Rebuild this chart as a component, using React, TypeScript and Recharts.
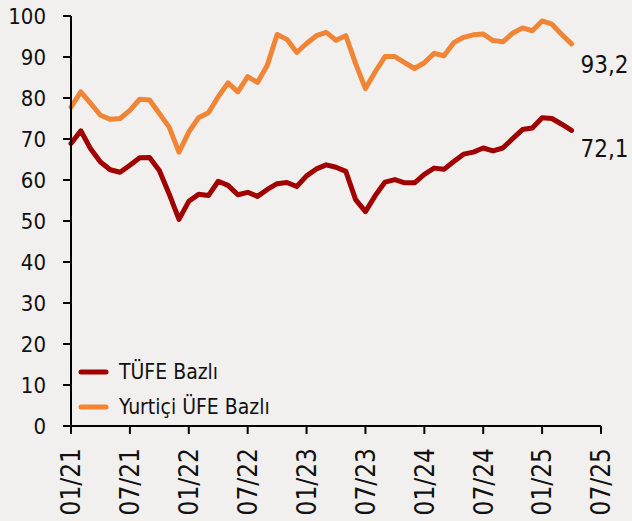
import React from 'react';
import { LineChart, Line, XAxis, YAxis, Legend, LabelList } from 'recharts';

const MONTHS = [
  '01/21', '02/21', '03/21', '04/21', '05/21', '06/21', '07/21', '08/21', '09/21', '10/21', '11/21', '12/21',
  '01/22', '02/22', '03/22', '04/22', '05/22', '06/22', '07/22', '08/22', '09/22', '10/22', '11/22', '12/22',
  '01/23', '02/23', '03/23', '04/23', '05/23', '06/23', '07/23', '08/23', '09/23', '10/23', '11/23', '12/23',
  '01/24', '02/24', '03/24', '04/24', '05/24', '06/24', '07/24', '08/24', '09/24', '10/24', '11/24', '12/24',
  '01/25', '02/25', '03/25', '04/25',
];

const TUFE = [
  68.9, 72.0, 67.6, 64.4, 62.5, 61.9, 63.6, 65.4, 65.5, 62.3, 56.6, 50.4,
  54.8, 56.5, 56.2, 59.7, 58.7, 56.4, 57.0, 56.0, 57.7, 59.1, 59.4, 58.4,
  61.0, 62.7, 63.7, 63.1, 62.1, 55.2, 52.3, 56.2, 59.5, 60.1, 59.3, 59.3,
  61.4, 62.9, 62.6, 64.5, 66.3, 66.8, 67.8, 67.1, 67.8, 70.1, 72.3, 72.7,
  75.2, 75.0, 73.6, 72.1,
];

const UFE = [
  77.8, 81.5, 78.7, 75.8, 74.8, 75.0, 77.0, 79.7, 79.5, 76.2, 72.9, 66.8,
  71.7, 75.2, 76.4, 80.3, 83.7, 81.5, 85.2, 83.8, 88.0, 95.5, 94.3, 91.1,
  93.3, 95.2, 96.0, 94.1, 95.2, 88.4, 82.3, 86.4, 90.1, 90.1, 88.6, 87.2,
  88.6, 90.9, 90.3, 93.5, 94.8, 95.4, 95.6, 94.0, 93.7, 95.8, 97.1, 96.4,
  98.8, 98.0, 95.5, 93.2,
];

const X_TICKS = ['01/21', '07/21', '01/22', '07/22', '01/23', '07/23', '01/24', '07/24', '01/25', '07/25'];
const Y_TICKS = [0, 10, 20, 30, 40, 50, 60, 70, 80, 90, 100];

const FONT = '"DejaVu Sans Condensed", "DejaVu Sans", sans-serif';
const TXT = { fontFamily: FONT, fontStretch: 'condensed' } as const;
const RED = '#a00000';
const ORANGE = '#f08536';
const BG = '#f2f0ef';

const rows = MONTHS.map((m, i) => ({ idx: i, month: m, tufe: TUFE[i], ufe: UFE[i] }));

function XTick({ x, y, payload }: any) {
  return (
    <text
      x={0}
      y={0}
      transform={`translate(${x},${y + 12}) rotate(-90)`}
      textAnchor="end"
      dy="0.36em"
      fontSize={26}
      style={TXT}
      fill="#111"
    >
      {X_TICKS[Math.round(payload.value / 6)]}
    </text>
  );
}

function endLabel(last: number, dy: number) {
  return (props: any) => {
    const { x, y, value, index } = props;
    if (index !== last) return null;
    return (
      <text x={x + 9} y={y + dy} dy="0.36em" fontSize={24} style={TXT} fill="#111">
        {Number(value).toFixed(1).replace('.', ',')}
      </text>
    );
  };
}

function LegendBox() {
  const items = [
    { name: 'TÜFE Bazlı', color: RED },
    { name: 'Yurtiçi ÜFE Bazlı', color: ORANGE },
  ];
  return (
    <div>
      {items.map((it) => (
        <div key={it.name} style={{ display: 'flex', alignItems: 'center', height: 34.5 }}>
          <svg width={31} height={8} style={{ marginRight: 10 }}>
            <line x1={3} y1={4} x2={28} y2={4} stroke={it.color} strokeWidth={5} strokeLinecap="round" />
          </svg>
          <span style={{ ...TXT, fontSize: 21, color: '#111' }}>{it.name}</span>
        </div>
      ))}
    </div>
  );
}

export default function App() {
  const last = rows.length - 1;
  return (
    <div style={{ position: 'absolute', left: 0, top: 0, width: 632, height: 521, background: BG }}>
      <LineChart width={632} height={521} data={rows} margin={{ top: 16, right: 31, bottom: 0, left: 0 }}>
        <XAxis
          dataKey="idx"
          type="number"
          domain={[0, 54]}
          ticks={[0, 6, 12, 18, 24, 30, 36, 42, 48, 54]}
          height={95}
          tick={<XTick />}
          tickSize={8}
          axisLine={{ stroke: '#000', strokeWidth: 2 }}
          tickLine={{ stroke: '#000', strokeWidth: 2 }}
          interval={0}
        />
        <YAxis
          domain={[0, 100]}
          ticks={Y_TICKS}
          width={71}
          tickSize={8}
          tickMargin={17}
          interval={0}
          axisLine={{ stroke: '#000', strokeWidth: 2 }}
          tickLine={{ stroke: '#000', strokeWidth: 2 }}
          tick={{ fontSize: 22, fill: '#111', style: TXT }}
        />
        <Legend
          layout="horizontal"
          verticalAlign="middle"
          align="center"
          content={<LegendBox />}
          wrapperStyle={{ left: 78, top: 355, width: 260 }}
        />
        <Line
          name="TÜFE Bazlı"
          dataKey="tufe"
          type="linear"
          stroke={RED}
          strokeWidth={5}
          strokeLinejoin="round"
          strokeLinecap="round"
          dot={false}
          isAnimationActive={false}
        >
          <LabelList dataKey="tufe" content={endLabel(last, 18)} />
        </Line>
        <Line
          name="Yurtiçi ÜFE Bazlı"
          dataKey="ufe"
          type="linear"
          stroke={ORANGE}
          strokeWidth={5}
          strokeLinejoin="round"
          strokeLinecap="round"
          dot={false}
          isAnimationActive={false}
        >
          <LabelList dataKey="ufe" content={endLabel(last, 20)} />
        </Line>
      </LineChart>
    </div>
  );
}
